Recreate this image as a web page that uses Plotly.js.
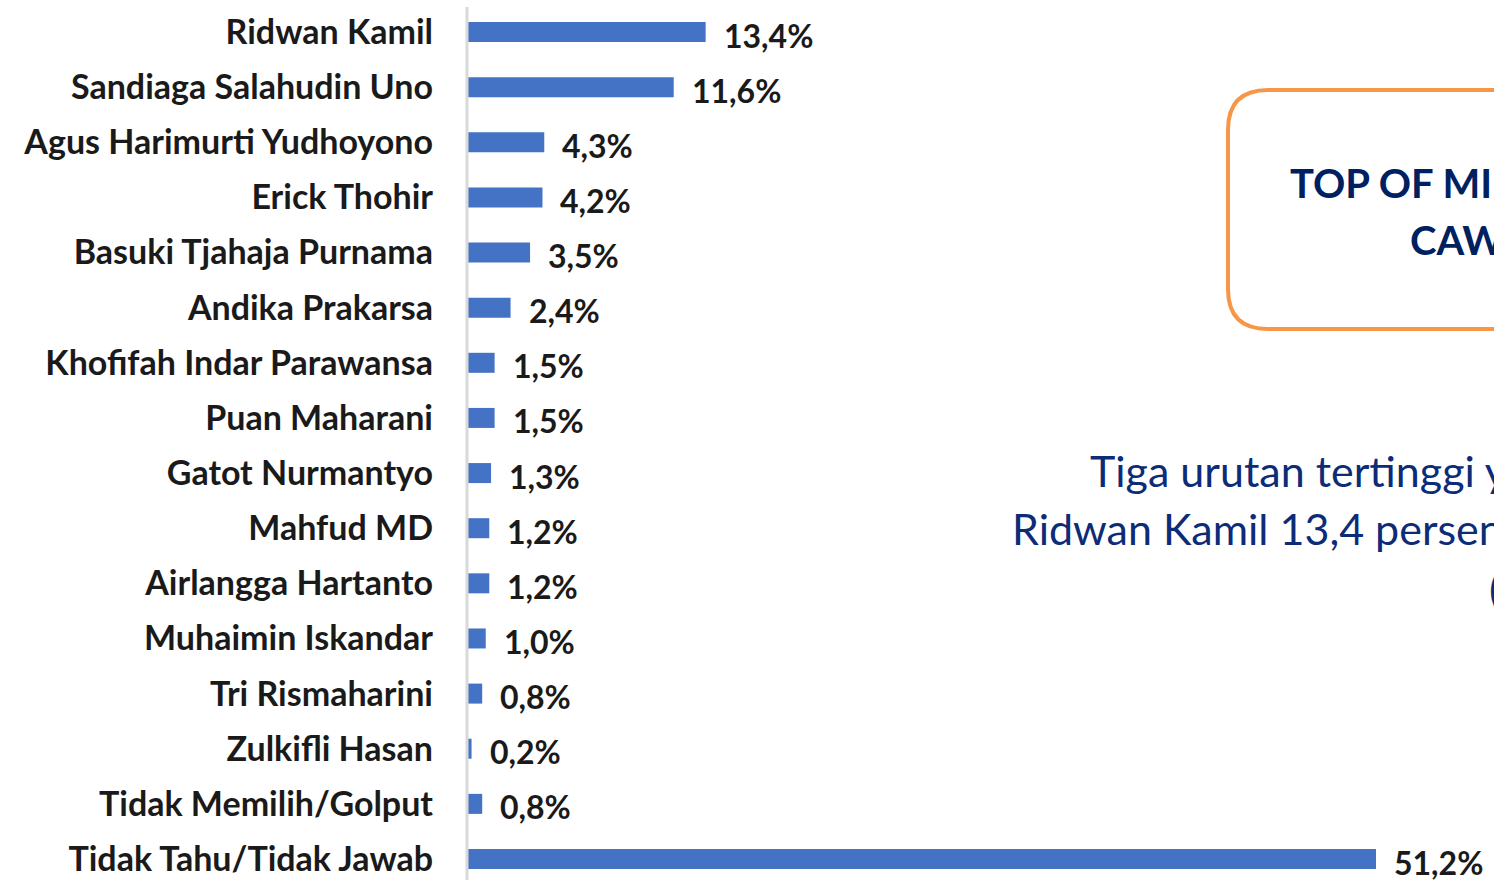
<!DOCTYPE html>
<html><head><meta charset="utf-8">
<script src="https://cdn.plot.ly/plotly-3.0.1.min.js"></script>
<style>html,body{margin:0;padding:0;overflow:hidden;background:#fff}#chart{width:1494px;height:880px}</style>
</head><body><div id="chart"></div>
<script>
const categories = ["Ridwan Kamil","Sandiaga Salahudin Uno","Agus Harimurti Yudhoyono","Erick Thohir","Basuki Tjahaja Purnama","Andika Prakarsa","Khofifah Indar Parawansa","Puan Maharani","Gatot Nurmantyo","Mahfud MD","Airlangga Hartanto","Muhaimin Iskandar","Tri Rismaharini","Zulkifli Hasan","Tidak Memilih/Golput","Tidak Tahu/Tidak Jawab"];
const values = [13.4,11.6,4.3,4.2,3.5,2.4,1.5,1.5,1.3,1.2,1.2,1.0,0.8,0.2,0.8,51.2];
const valueLabels = values.map(v => v.toFixed(1).replace('.', ',') + '%');
const boxTitle = ["TOP OF MIND", "CAWAPRES"];
const noteLines = ["Tiga urutan tertinggi yaitu", "Ridwan Kamil 13,4 persen, Sandiaga", "("];

const W = 1494, H = 880, L = 468;
const px = x => (x - L) / (W - L);
const py = y => 1 - y / H;

const font = "Lato, 'Open Sans', sans-serif";
const annotations = values.map((v, i) => ({
  x: v, y: categories[i], xref: 'x', yref: 'y', text: valueLabels[i],
  showarrow: false, xanchor: 'left', yanchor: 'middle', xshift: 16, yshift: -3,
  font: {family: font, size: 32, color: '#1a1a1a', weight: 'bold'}
}));
annotations.push(
  {xref:'paper', yref:'paper', x: px(1288), y: py(183), text: boxTitle[0], showarrow:false, xanchor:'left', yanchor:'middle', font:{family:font, size:40, color:'#002060', weight:'bold'}},
  {xref:'paper', yref:'paper', x: px(1408), y: py(240), text: boxTitle[1], showarrow:false, xanchor:'left', yanchor:'middle', font:{family:font, size:40, color:'#002060', weight:'bold'}},
  {xref:'paper', yref:'paper', x: px(1088), y: py(470), text: noteLines[0], showarrow:false, xanchor:'left', yanchor:'middle', font:{family:font, size:43, color:'#0d2c78'}},
  {xref:'paper', yref:'paper', x: px(1010), y: py(528), text: noteLines[1], showarrow:false, xanchor:'left', yanchor:'middle', font:{family:font, size:43, color:'#0d2c78'}},
  {xref:'paper', yref:'paper', x: px(1487), y: py(588), text: noteLines[2], showarrow:false, xanchor:'left', yanchor:'middle', font:{family:font, size:43, color:'#0d2c78'}}
);

// rounded box (pixel-based path converted to paper coords)
const bx0 = 1228, by0 = 90, bx1 = 1560, by1 = 329, r = 40;
const boxPath = `M ${px(bx0+r)} ${py(by0)} L ${px(bx1)} ${py(by0)} L ${px(bx1)} ${py(by1)} L ${px(bx0+r)} ${py(by1)} ` +
  `Q ${px(bx0)} ${py(by1)} ${px(bx0)} ${py(by1-r)} L ${px(bx0)} ${py(by0+r)} Q ${px(bx0)} ${py(by0)} ${px(bx0+r)} ${py(by0)} Z`;

const n = categories.length;
const unit = (859 - 32) / (n - 1);
const yTop = -32 / unit, yBot = (n - 1) + (H - 859) / unit;

const data = [{
  type: 'bar', orientation: 'h', x: values, y: categories,
  marker: {color: '#4472C4'}, width: 20 / unit, hoverinfo: 'none'
}];

const layout = {
  width: W, height: H, margin: {l: L, r: 0, t: 0, b: 0},
  paper_bgcolor: '#fff', plot_bgcolor: '#fff', showlegend: false,
  xaxis: {range: [0, (W - L) / (908 / 51.2)], visible: false, fixedrange: true},
  yaxis: {
    type: 'category', range: [yBot, yTop], showgrid: false, zeroline: false, showline: false,
    ticks: '', ticklabelstandoff: 34,
    tickfont: {family: font, size: 34, color: '#1a1a1a', weight: 'bold'}
  },
  shapes: [
    {type: 'line', xref: 'paper', yref: 'paper', x0: px(467), x1: px(467), y0: py(7), y1: py(880), line: {color: '#D9D9D9', width: 3}},
    {type: 'path', xref: 'paper', yref: 'paper', path: boxPath, line: {color: '#F79646', width: 4}, fillcolor: 'rgba(0,0,0,0)'}
  ],
  annotations: annotations
};
Plotly.newPlot('chart', data, layout, {displayModeBar: false, staticPlot: true});
</script></body></html>
